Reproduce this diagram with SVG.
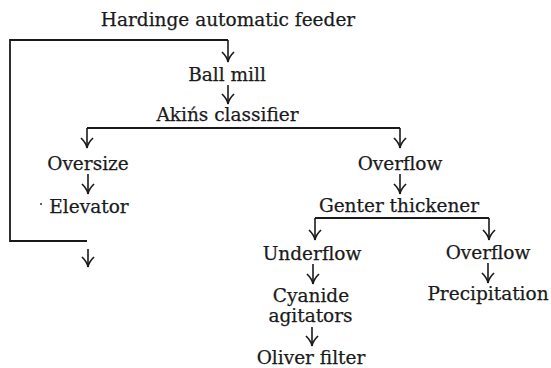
<svg xmlns="http://www.w3.org/2000/svg" width="551" height="368" viewBox="0 0 551 368">
<style>
text{font-family:"DejaVu Serif","Liberation Serif",serif;font-size:18.5px;fill:#1a1a1a;stroke:#1a1a1a;stroke-width:0.25;text-anchor:middle}
.ln{fill:none;stroke:#1a1a1a;stroke-width:1.8}
.ar{fill:none;stroke:#1a1a1a;stroke-width:1.6;marker-end:url(#ah)}
</style>
<defs>
<marker id="ah" markerUnits="userSpaceOnUse" viewBox="0 0 12 14" markerWidth="12" markerHeight="14" refX="11" refY="7" orient="auto">
<path d="M1,1 Q6,6.2 11,7 M1,13 Q6,7.8 11,7" fill="none" stroke="#1a1a1a" stroke-width="1.7"/>
</marker>
</defs>
<rect width="551" height="368" fill="#fff"/>
<g id="connectors">
<path class="ln" d="M228,40 H10 V241 H87"/>
<path class="ar" d="M228,40 V62"/>
<path class="ar" d="M228,85 V104"/>
<path class="ln" d="M87,128 H400"/>
<path class="ar" d="M87,128 V148"/>
<path class="ar" d="M400,128 V148"/>
<path class="ar" d="M88,174 V194"/>
<path class="ar" d="M400,174 V194"/>
<path class="ln" d="M315,218 H489"/>
<path class="ar" d="M315,218 V240"/>
<path class="ar" d="M489,218 V240"/>
<path class="ar" d="M313,264 V284"/>
<path class="ar" d="M488,263 V283"/>
<path class="ar" d="M312,327 V346"/>
<path class="ar" d="M88,249 V267"/>
</g>
<g id="feeder"><text x="228" y="26">Hardinge automatic feeder</text></g>
<g id="ballmill"><text x="227" y="81">Ball mill</text></g>
<g id="classifier"><text x="227.5" y="121">Akińs classifier</text></g>
<g id="oversize"><text x="88" y="170">Oversize</text></g>
<g id="elevator"><circle cx="41" cy="204" r="0.9" fill="#1a1a1a"/><text x="89" y="213">Elevator</text></g>
<g id="overflow1"><text x="400" y="170">Overflow</text></g>
<g id="thickener"><text x="399" y="212">Genter thickener</text></g>
<g id="underflow"><text x="312" y="260">Underflow</text></g>
<g id="overflow2"><text x="488" y="259">Overflow</text></g>
<g id="agitators"><text x="311" y="302">Cyanide</text><text x="310.5" y="322">agitators</text></g>
<g id="precipitation"><text x="488" y="300">Precipitation</text></g>
<g id="filter"><text x="311" y="364">Oliver filter</text></g>
</svg>
